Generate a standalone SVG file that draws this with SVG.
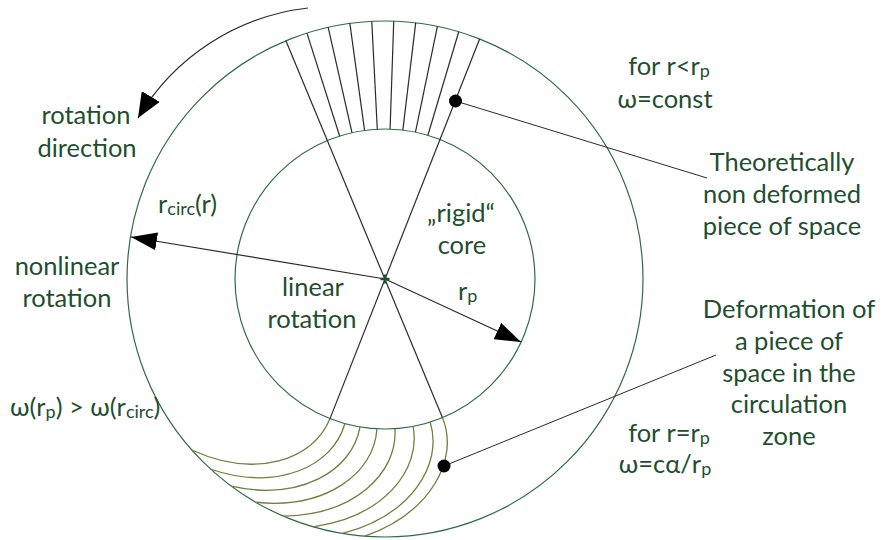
<svg xmlns="http://www.w3.org/2000/svg" xmlns:xlink="http://www.w3.org/1999/xlink" width="888" height="540" viewBox="0 0 888 540">
<style>
.circ{fill:none;stroke:#2f6a4a;stroke-width:1.2}
.ln{stroke:#2a2a2a;stroke-width:1.2;fill:none}
.sp{fill:none;stroke:#6f7f3c;stroke-width:1.3}
.t{font-family:Lato,"Liberation Sans",sans-serif;font-size:25.5px;fill:#1f4f2f;text-anchor:middle}
.s{font-size:18px}
</style>
<defs>
<marker id="ah" viewBox="0 0 26 18" refX="26" refY="9" markerWidth="26" markerHeight="18" markerUnits="userSpaceOnUse" orient="auto">
<path d="M0,0 L26,9 L0,18 z" fill="#000"/>
</marker>
<marker id="ah2" viewBox="0 0 25 21" refX="25" refY="10.5" markerWidth="25" markerHeight="21" markerUnits="userSpaceOnUse" orient="auto">
<path d="M0,0 L25,10.5 L0,21 z" fill="#000"/>
</marker>
<path id="spiral" d="M385,429 C385,474 337.8,512.6 267.9,508.9"/>
<line id="fan" x1="385" y1="129" x2="385" y2="21"/>
</defs>
<g id="circles">
<circle class="circ" cx="385" cy="279" r="258"/>
<circle class="circ" cx="385" cy="279" r="150"/>
</g>
<g id="top-fan" class="ln">
<use xlink:href="#fan" transform="rotate(-17.61 385 279)"/>
<use xlink:href="#fan" transform="rotate(-12.72 385 279)"/>
<use xlink:href="#fan" transform="rotate(-7.83 385 279)"/>
<use xlink:href="#fan" transform="rotate(-2.94 385 279)"/>
<use xlink:href="#fan" transform="rotate(1.94 385 279)"/>
<use xlink:href="#fan" transform="rotate(6.83 385 279)"/>
<use xlink:href="#fan" transform="rotate(11.72 385 279)"/>
<use xlink:href="#fan" transform="rotate(16.61 385 279)"/>
</g>
<g id="bottom-spiral" class="sp">
<use xlink:href="#spiral" transform="rotate(21.5 385 279)"/>
<use xlink:href="#spiral" transform="rotate(15.5 385 279)"/>
<use xlink:href="#spiral" transform="rotate(9.6 385 279)"/>
<use xlink:href="#spiral" transform="rotate(3.1 385 279)"/>
<use xlink:href="#spiral" transform="rotate(-3.8 385 279)"/>
<use xlink:href="#spiral" transform="rotate(-10.8 385 279)"/>
<use xlink:href="#spiral" transform="rotate(-17.5 385 279)"/>
<use xlink:href="#spiral" transform="rotate(-22.5 385 279)"/>
</g>
<g id="connectors" class="ln">
<line x1="285.8" y1="40.6" x2="442.4" y2="417.6"/>
<line x1="479.6" y1="39" x2="330" y2="418.6"/>
<line x1="385" y1="279" x2="131" y2="237" marker-end="url(#ah)"/>
<line x1="385" y1="279" x2="521" y2="342" marker-end="url(#ah)"/>
<path d="M308,8 A228,228 0 0 0 138,118" marker-end="url(#ah2)"/>
<line x1="455.5" y1="101" x2="707" y2="178" stroke-width="1"/>
<line x1="444" y1="466" x2="716" y2="355" stroke-width="1"/>
</g>
<g id="markers">
<circle cx="455.5" cy="101" r="6.5" fill="#000"/>
<circle cx="444" cy="466" r="6.5" fill="#000"/>
<path d="M380.5,279 H389.5 M385,274.5 V283.5" stroke="#1f4f2f" stroke-width="2.5"/>
</g>
<g id="labels">
<text class="t" x="86" y="124">rotation</text>
<text class="t" x="87" y="157">direction</text>
<text class="t" x="158" y="213" style="text-anchor:start">r<tspan class="s" dy="2">circ</tspan><tspan dy="-2">(r)</tspan></text>
<text class="t" x="67" y="275">nonlinear</text>
<text class="t" x="67" y="307">rotation</text>
<text class="t" x="313" y="296">linear</text>
<text class="t" x="312" y="328">rotation</text>
<text class="t" x="461" y="222">„rigid“</text>
<text class="t" x="462" y="254">core</text>
<text class="t" x="458" y="300" style="text-anchor:start">r<tspan class="s" dy="2">p</tspan></text>
<text class="t" x="669" y="75">for r&lt;r<tspan class="s" dy="2">p</tspan></text>
<text class="t" x="665" y="108">ω=const</text>
<text class="t" x="782" y="171">Theoretically</text>
<text class="t" x="782" y="203">non deformed</text>
<text class="t" x="782" y="235">piece of space</text>
<text class="t" x="789" y="318">Deformation of</text>
<text class="t" x="789" y="350">a piece of</text>
<text class="t" x="789" y="382">space in the</text>
<text class="t" x="789" y="413">circulation</text>
<text class="t" x="789" y="445">zone</text>
<text class="t" x="669" y="442">for r=r<tspan class="s" dy="2">p</tspan></text>
<text class="t" x="665" y="473">ω=cα/r<tspan class="s" dy="2">p</tspan></text>
<text class="t" x="10" y="416" style="text-anchor:start">ω(r<tspan class="s" dy="2">p</tspan><tspan dy="-2">) &gt; ω(r</tspan><tspan class="s" dy="2">circ</tspan><tspan dy="-2">)</tspan></text>
</g>
</svg>
